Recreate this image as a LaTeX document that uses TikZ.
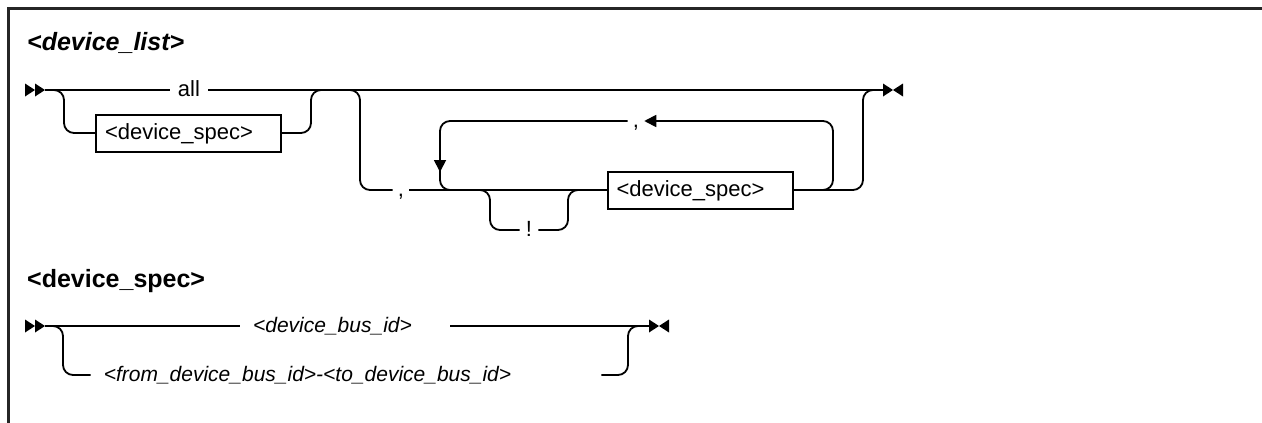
\documentclass[tikz,border=0pt]{standalone}
\usepackage{fontspec}
\setmainfont{Liberation Sans}
\usetikzlibrary{arrows.meta}
\newcommand\railstart[1]{%
  \fill ([xshift=-20pt,yshift=6.5pt]#1) -- ([xshift=-10pt]#1) -- ([xshift=-20pt,yshift=-6.5pt]#1) -- cycle;
  \fill ([xshift=-10pt,yshift=6.5pt]#1) -- (#1) -- ([xshift=-10pt,yshift=-6.5pt]#1) -- cycle;}
\newcommand\railstop[1]{%
  \fill ([yshift=6.5pt]#1) -- ([xshift=10pt]#1) -- ([yshift=-6.5pt]#1) -- cycle;
  \fill ([xshift=20pt,yshift=6.5pt]#1) -- ([xshift=10pt]#1) -- ([xshift=20pt,yshift=-6.5pt]#1) -- cycle;}

\begin{document}
\begin{tikzpicture}[x=1pt,y=-1pt,
  rail/.style={line width=1.8pt, rounded corners=10pt},
  lbl/.style={inner xsep=5pt, inner ysep=0pt, text height=16pt, text depth=4pt,
    font=\fontsize{22}{26}\selectfont},
  varbox/.style={lbl, draw, line width=2pt, align=left, text width=167pt,
    inner xsep=9pt, minimum height=37pt},
  head/.style={anchor=base west, inner sep=0pt, font=\fontsize{25}{29}\selectfont\bfseries},
  loopend/.style={-{Triangle[length=12pt,width=12pt]}}]
\useasboundingbox (0,0) rectangle (1262,423);

% frame
\draw[line width=2.2pt, black!85] (1262,8.5) -- (8.5,8.5) -- (8.5,423);

% device_list
\node[head, font=\fontsize{25}{29}\selectfont\bfseries\itshape] (title1) at (27,50) {<device\_list>};
\coordinate (in1) at (45,90);
\coordinate (out1) at (883,90);

\node[lbl, inner xsep=8pt] (all) at (189,90) {all};
\node[varbox] (spec1) at (188.5,133) {<device\_spec>};
\node[lbl] (comma1) at (401,190) {,};
\node[lbl, inner xsep=6pt] (bang) at (529,230) {!};
\node[varbox] (spec2) at (700,190) {<device\_spec>};
\node[lbl] (comma2) at (636,121) {,};

\draw[rail] (in1) -- (all.west);
\draw[rail] (all.east) -- (out1);
\draw[rail] (in1) -| (64,133) -- (spec1.west);
\draw[rail] (spec1.east) -| (311,90) -- (322,90);
\draw[rail] (348,90) -| (360,190) -- (comma1.west);
\draw[rail] (comma1.east) -- (spec2.west);
\draw[rail] (478,190) -| (490,230) -- (bang.west);
\draw[rail] (bang.east) -| (568,190) -- (580,190);
\draw[rail] (spec2.east) -| (863,90) -- (out1);
% repeat loop
\draw[rail,loopend] (spec2.east) -| (833,121) -- (comma2.east);
\draw[rail] (comma2.west) -| (440,190) -- (452,190);
\draw[rail,loopend] (440,150) -- (440,172);

\railstart{in1}
\railstop{out1}

% device_spec
\node[head] (title2) at (27,287) {<device\_spec>};
\coordinate (in2) at (45,326);
\coordinate (out2) at (649,326);

\node[lbl, inner xsep=0pt, font=\fontsize{21}{25}\selectfont\itshape] (busid) at (332.5,326) {<device\_bus\_id>};
\node[lbl, inner xsep=0pt, font=\fontsize{21}{25}\selectfont\itshape] (range) at (307.5,375) {<from\_device\_bus\_id>-<to\_device\_bus\_id>};

\draw[rail] (in2) -- ([xshift=-13pt]busid.west);
\draw[rail] ([xshift=38pt]busid.east) -- (out2);
\draw[rail] (in2) -| (63,375) -- ([xshift=-13pt]range.west);
\draw[rail] ([xshift=90pt]range.east) -| (628,326) -- (out2);

\railstart{in2}
\railstop{out2}
\end{tikzpicture}
\end{document}
